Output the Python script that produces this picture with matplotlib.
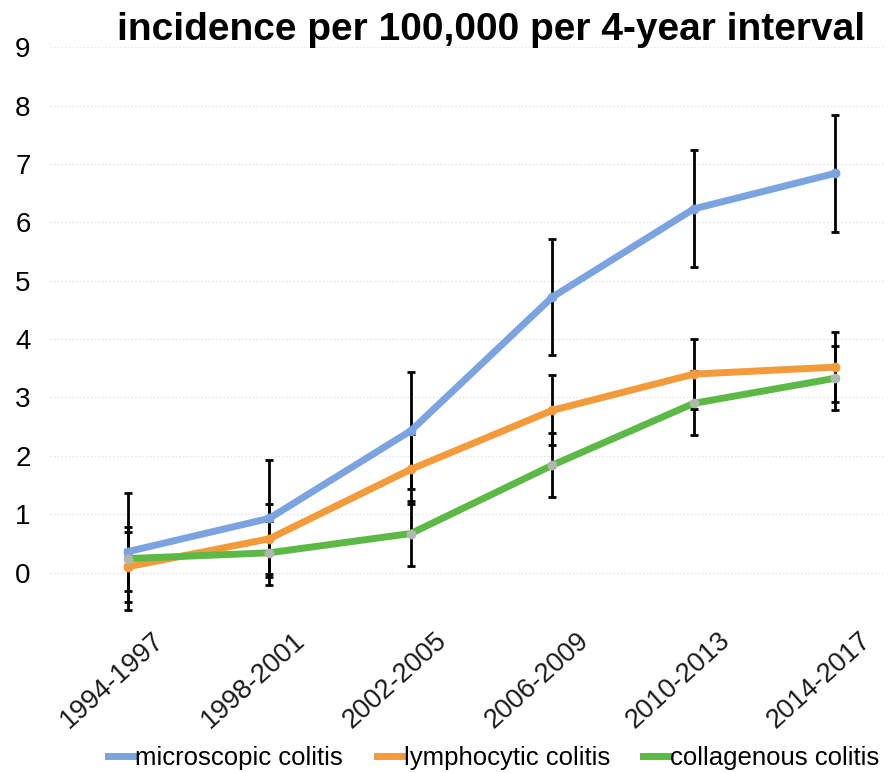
import matplotlib
matplotlib.use('Agg')
import matplotlib.pyplot as plt
import matplotlib.transforms as mtransforms

plt.rcParams['font.family'] = ['Liberation Sans', 'DejaVu Sans']

periods = ['1994-1997', '1998-2001', '2002-2005', '2006-2009', '2010-2013', '2014-2017']
microscopic = [0.36, 0.93, 2.43, 4.72, 6.23, 6.84]
lymphocytic = [0.10, 0.58, 1.77, 2.78, 3.40, 3.52]
collagenous = [0.24, 0.34, 0.67, 1.84, 2.90, 3.33]
err_micro = 1.0
err_lymph = 0.6
err_coll = 0.55

names = ['microscopic colitis', 'lymphocytic colitis', 'collagenous colitis']
colors = ['#7ba3df', '#f39a3b', '#5cb946']


def plot_chart():
    fig = plt.figure(figsize=(8.9, 7.73), dpi=100)
    ax = fig.add_axes([0.0562, 0.195, 0.938, 0.744])
    x = list(range(len(periods)))

    series = [microscopic, lymphocytic, collagenous]
    errs = [err_micro, err_lymph, err_coll]
    for vals, e in zip(series, errs):
        ax.errorbar(x, vals, yerr=e, fmt='none', ecolor='black',
                    elinewidth=2.0, capsize=3.2, capthick=2.0, zorder=2)
    handles = []
    for vals, c, n in zip(series, colors, names):
        mc = '#b0b8b0' if c == colors[2] else c
        h, = ax.plot(x, vals, color=c, lw=5, zorder=3, label=n,
                     marker='o', markersize=6, markerfacecolor=mc,
                     markeredgecolor=mc)
        handles.append(h)

    ax.set_ylim(-0.85, 9)
    ax.set_xlim(-0.55, 5.35)
    ax.set_yticks(range(0, 10))
    ax.set_xticks(x)
    ax.set_xticklabels([])
    # shifted, rotated category labels
    off = mtransforms.ScaledTranslation(0.24, -0.05, fig.dpi_scale_trans)
    for i, p in zip(x, periods):
        ax.text(i, 0, p, transform=ax.get_xaxis_transform() + off,
                rotation=42, ha='right', va='top', rotation_mode='anchor',
                fontsize=19.5, color='#1a1a1a')
    ax.tick_params(axis='x', length=0)
    ax.tick_params(axis='y', labelsize=20, length=0, pad=14)
    ax.grid(axis='y', color='#e2e2e2', ls=':', lw=1)
    for s in ax.spines.values():
        s.set_visible(False)

    fig.text(0.552, 0.961, 'incidence per 100,000 per 4-year interval',
             fontsize=28, fontweight='bold', ha='center', va='center')
    fig.legend(handles=[plt.Line2D([], [], color=c, lw=5) for c in colors],
               labels=names, loc='center', bbox_to_anchor=(0.555, 0.02),
               ncol=3, frameon=False, fontsize=18.5, handlelength=1.0,
               handletextpad=0.05, columnspacing=1.3)
    fig.savefig('out.png', dpi=100)


if __name__ == '__main__':
    plot_chart()
